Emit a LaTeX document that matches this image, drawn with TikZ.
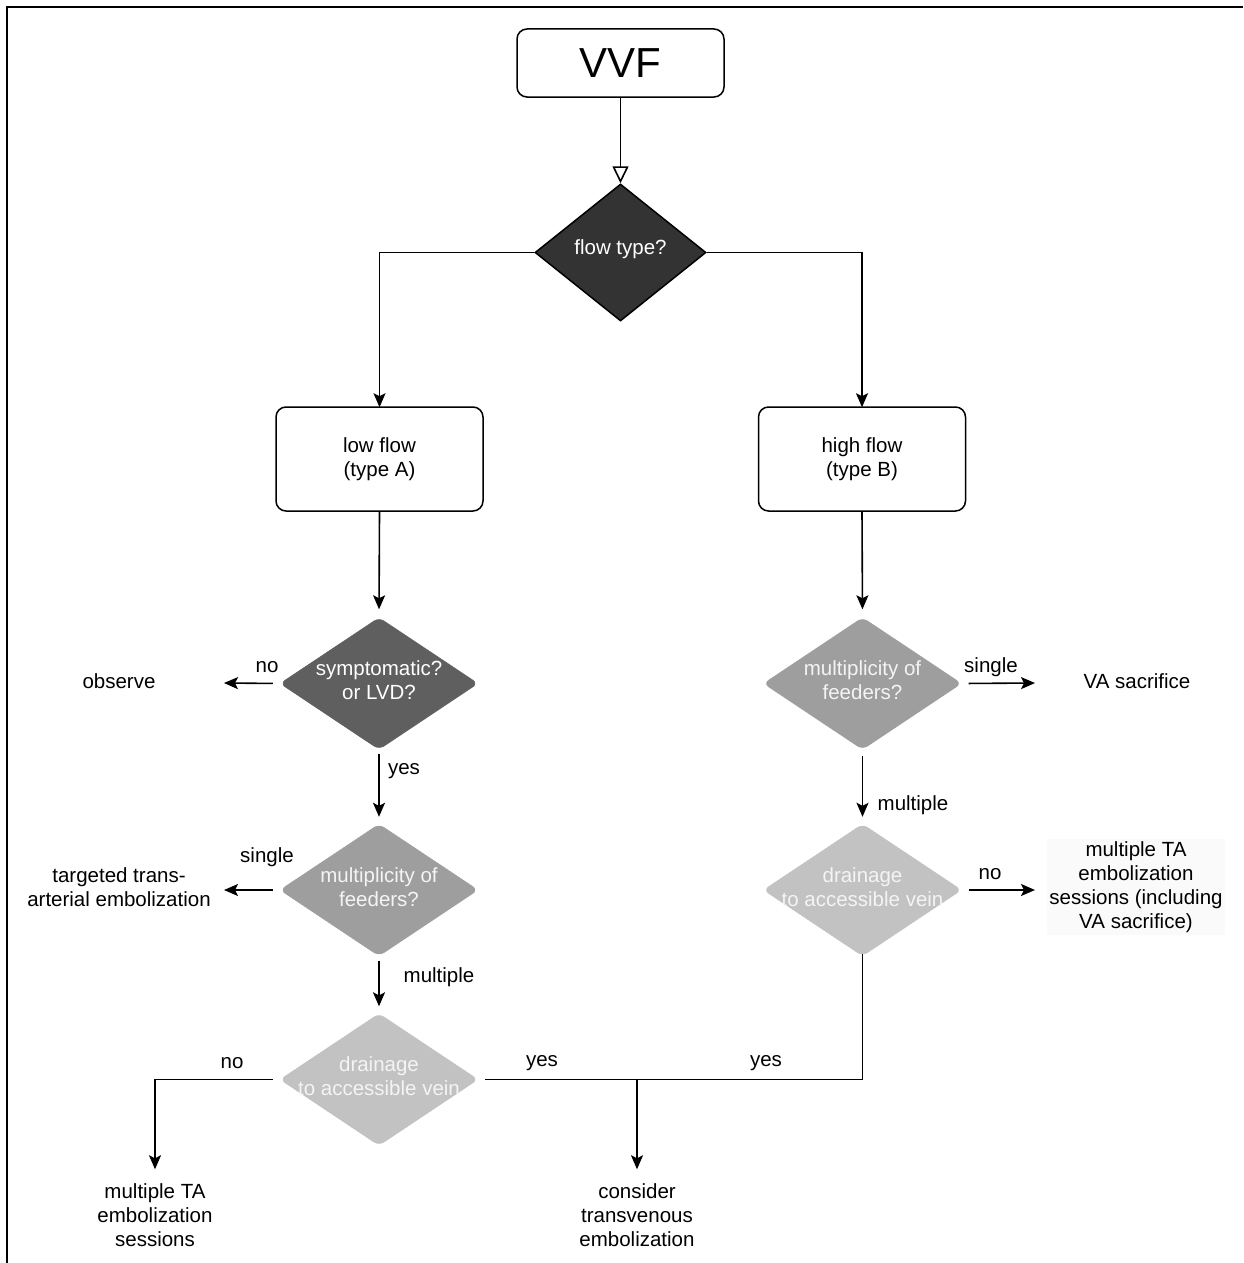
\documentclass[tikz,border=0pt]{standalone}
\usepackage{fontspec}
\setmainfont{Liberation Sans}
\usetikzlibrary{shapes.geometric,arrows.meta}
\definecolor{fdark}{HTML}{333333}
\definecolor{fmid}{HTML}{5F5F5F}
\definecolor{flight}{HTML}{9E9E9E}
\definecolor{fpale}{HTML}{C2C2C2}
\definecolor{tpale}{HTML}{F4F4F4}
\begin{document}
\begin{tikzpicture}[x=1pt,y=-1pt,
  font=\fontsize{20.5}{24}\selectfont,
  box/.style={draw, line width=1.5pt, rounded corners=10pt, minimum width=207pt, minimum height=104pt, align=center, inner sep=0pt},
  dia/.style={diamond, minimum width=198pt, minimum height=132pt, inner sep=0pt, rounded corners=6pt},
  lbl/.style={align=center, inner sep=2pt},
  wire/.style={line width=1.6pt},
  conn/.style={line width=1.6pt, -{Stealth[length=14pt,width=12pt,inset=3pt]}},
  frameline/.style={line width=2pt}
]
\useasboundingbox (0,0) rectangle (1243,1263);
% frame
\coordinate (fa) at (7,1263);
\coordinate (fb) at (7,7);
\coordinate (fc) at (1243,7);
\draw[frameline] (fa) -- (fb) -- (fc);

% nodes
\node[box, minimum height=68pt, font=\fontsize{42}{48}\selectfont] (vvf) at (620.5,63) {VVF};
\node[diamond, draw, line width=1.5pt, fill=fdark, minimum width=171pt, minimum height=137pt, inner sep=0pt,
      label={[text=white,yshift=3pt]center:flow type?}] (ft) at (620.5,252.5) {};
\node[box] (low) at (379.5,459) {low flow\\(type A)};
\node[box] (high) at (862,459) {high flow\\(type B)};

\node[dia, fill=fmid, draw=fmid, label={[text=white,align=center,yshift=3pt]center:symptomatic?\\or LVD?}] (sym) at (379,683.5) {};
\node[dia, fill=flight, draw=flight, label={[text=tpale,align=center,yshift=3pt]center:multiplicity of\\feeders?}] (ml) at (379,890) {};
\node[dia, fill=fpale, draw=fpale, label={[text=tpale,align=center,yshift=3pt]center:drainage\\to accessible vein}] (dl) at (379,1079.5) {};
\node[dia, fill=flight, draw=flight, label={[text=tpale,align=center,yshift=3pt]center:multiplicity of\\feeders?}] (mr) at (862.5,683.5) {};
\node[dia, fill=fpale, draw=fpale, label={[text=tpale,align=center,yshift=3pt]center:drainage\\to accessible vein}] (dr) at (862.5,890) {};

% outcome texts
\node[lbl] (obs) at (119,681) {observe};
\node[lbl] (tae) at (119,887) {targeted trans-\\arterial embolization};
\node[lbl] (mta) at (155,1215) {multiple TA\\embolization\\sessions};
\node[lbl] (tv) at (637,1215) {consider\\transvenous\\embolization};
\node[lbl] (vas) at (1137,681) {VA sacrifice};
\node[lbl, fill=gray!4] (mtav) at (1136,887) {multiple TA\\embolization\\sessions (including\\VA sacrifice)};

% arrow end points
\coordinate (obsIn) at (224,683);
\coordinate (taeIn) at (224,890);
\coordinate (vasIn) at (1035,683);
\coordinate (mtavIn) at (1035,890);
\coordinate (j) at (637,1079.5);

% connectors
\draw[wire, -{Triangle[open, length=17pt, width=16pt, fill=white]}] (vvf.south) -- (ft.north);
\draw[conn] (ft.west) -| ([yshift=-1pt]low.north);
\draw[conn] (ft.east) -| ([yshift=-1pt]high.north);
\draw[conn, shorten >=8pt] (low.south) -- (sym.north);
\draw[conn, shorten >=8pt] (high.south) -- (mr.north);

\draw[conn, shorten <=7pt] (sym.west) -- (obsIn);
\draw[conn, shorten <=4pt, shorten >=7pt] (sym.south) -- (ml.north);
\draw[conn, shorten <=7pt] (ml.west) -- (taeIn);
\draw[conn, shorten <=5pt, shorten >=7pt] (ml.south) -- (dl.north);
\draw[conn, shorten <=7pt, shorten >=12pt] (dl.west) -| (mta.north);
\draw[wire, shorten <=7pt] (dl.east) -| ([yshift=2pt]dr.south);
\draw[conn, shorten >=12pt] (j) -- (tv.north);

\draw[conn, shorten <=7pt] (mr.east) -- (vasIn);
\draw[conn, shorten <=6pt, shorten >=7pt] (mr.south) -- (dr.north);
\draw[conn, shorten <=7pt] (dr.east) -- (mtavIn);

% connector labels
\node[lbl] (l1) at (267,667) {no};
\node[lbl] (l2) at (404,771) {yes};
\node[lbl] (l3) at (267,857) {single};
\node[lbl] (l4) at (439,977) {multiple};
\node[lbl] (l5) at (232,1063) {no};
\node[lbl] (l6) at (542,1063) {yes};
\node[lbl] (l7) at (766,1063) {yes};
\node[lbl] (l8) at (991,667) {single};
\node[lbl] (l9) at (913,805) {multiple};
\node[lbl] (l10) at (990,874) {no};
\end{tikzpicture}
\end{document}
